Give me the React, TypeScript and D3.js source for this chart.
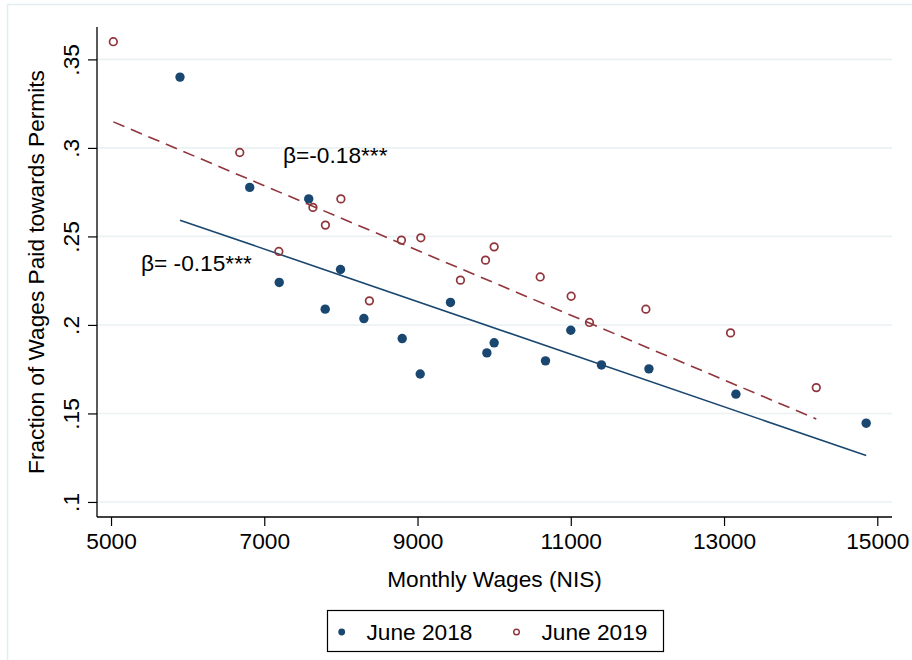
import React, { useEffect, useRef } from 'react';
import * as d3 from 'd3';

// June 2018 (filled navy dots)
const wage2018 = [5900, 6810, 7580, 7195, 7795, 7995, 8300, 8800, 9035, 9430, 9905, 10000, 10670, 11000, 11400, 12020, 13155, 14855];
const frac2018 = [0.340, 0.2777, 0.2712, 0.224, 0.2089, 0.2313, 0.2036, 0.1923, 0.1723, 0.2127, 0.1842, 0.1899, 0.1797, 0.197, 0.1774, 0.1752, 0.1609, 0.1445];

// June 2019 (hollow maroon circles)
const wage2019 = [5030, 6680, 7635, 7798, 8000, 7190, 8372, 8790, 9043, 9560, 9887, 10000, 10601, 11005, 11244, 11980, 13085, 14204];
const frac2019 = [0.360, 0.2974, 0.2664, 0.2564, 0.2712, 0.2415, 0.2136, 0.2479, 0.2492, 0.2253, 0.2366, 0.2441, 0.2271, 0.2162, 0.2014, 0.2089, 0.1955, 0.1646];

// fitted lines (endpoints in data units)
const fit2018X = [5900, 14855];
const fit2018Y = [0.2592, 0.1262];
const fit2019X = [5030, 14204];
const fit2019Y = [0.3147, 0.1469];

const xTicks = [5000, 7000, 9000, 11000, 13000, 15000];
const yTicks = [0.1, 0.15, 0.2, 0.25, 0.3, 0.35];
const yTickLabels = ['.1', '.15', '.2', '.25', '.3', '.35'];

const legendLabels = ['June 2018', 'June 2019'];
const betaLabels = ['β= -0.15***', 'β=-0.18***'];

const NAVY = '#1a476f';
const MAROON = '#90353b';
const GRID = '#eaf2f3';
const FONT = '"Liberation Sans", Arial, Helvetica, sans-serif';
const FS = 22.7;

const App = () => {
  const ref = useRef(null);

  useEffect(() => {
    const svg = d3.select(ref.current);
    svg.selectAll('*').remove();

    const left = 97;
    const right = 892;
    const top = 27;
    const bottom = 517;

    const x = d3.scaleLinear().domain([4817, 15192]).range([left, right]);
    const y = d3.scaleLinear().domain([0.0915, 0.3683]).range([bottom, top]);

    // outer graph region frame
    svg.append('rect')
      .attr('x', 7.5).attr('y', 4.5)
      .attr('width', 920).attr('height', 670)
      .attr('fill', 'white')
      .attr('stroke', '#e4edef')
      .attr('stroke-width', 1.5);

    // gridlines
    svg.append('g')
      .selectAll('line')
      .data(yTicks)
      .enter()
      .append('line')
      .attr('x1', left).attr('x2', right)
      .attr('y1', (d) => y(d)).attr('y2', (d) => y(d))
      .attr('stroke', GRID)
      .attr('stroke-width', 1.6);

    // y axis
    const yAxis = svg.append('g')
      .attr('transform', `translate(${left},0)`)
      .call(d3.axisLeft(y).tickValues(yTicks).tickSize(9).tickFormat((d, i) => yTickLabels[i]));
    yAxis.select('.domain').attr('d', `M0,${top}V${bottom}`).attr('stroke', '#000').attr('stroke-width', 1.3);
    yAxis.selectAll('.tick line').attr('stroke', '#000').attr('stroke-width', 1.2);
    yAxis.selectAll('.tick text')
      .attr('x', null).attr('dy', null)
      .attr('transform', 'translate(-18,0) rotate(-90)')
      .attr('text-anchor', 'middle')
      .attr('font-family', FONT)
      .attr('font-size', FS)
      .attr('fill', '#000');

    // x axis
    const xAxis = svg.append('g')
      .attr('transform', `translate(0,${bottom})`)
      .call(d3.axisBottom(x).tickValues(xTicks).tickSize(9).tickFormat(d3.format('d')));
    xAxis.select('.domain').attr('d', `M${left},0H${right}`).attr('stroke', '#000').attr('stroke-width', 1.3);
    xAxis.selectAll('.tick line').attr('stroke', '#000').attr('stroke-width', 1.2);
    xAxis.selectAll('.tick text')
      .attr('y', 32).attr('dy', null)
      .attr('font-family', FONT)
      .attr('font-size', FS)
      .attr('fill', '#000');

    // axis titles
    svg.append('text')
      .attr('x', (left + right) / 2).attr('y', 587)
      .attr('text-anchor', 'middle')
      .attr('font-family', FONT).attr('font-size', FS)
      .text('Monthly Wages (NIS)');

    svg.append('text')
      .attr('transform', `translate(44,${(top + bottom) / 2}) rotate(-90)`)
      .attr('text-anchor', 'middle')
      .attr('font-family', FONT).attr('font-size', FS)
      .text('Fraction of Wages Paid towards Permits');

    // fit lines
    const line = d3.line().x((d) => x(d[0])).y((d) => y(d[1]));
    svg.append('path')
      .attr('d', line(d3.zip(fit2018X, fit2018Y)))
      .attr('fill', 'none')
      .attr('stroke', NAVY)
      .attr('stroke-width', 1.6);
    svg.append('path')
      .attr('d', line(d3.zip(fit2019X, fit2019Y)))
      .attr('fill', 'none')
      .attr('stroke', MAROON)
      .attr('stroke-width', 1.6)
      .attr('stroke-dasharray', '12,7');

    // points
    svg.append('g')
      .selectAll('circle')
      .data(d3.zip(wage2018, frac2018))
      .enter()
      .append('circle')
      .attr('cx', (d) => x(d[0]))
      .attr('cy', (d) => y(d[1]))
      .attr('r', 4.7)
      .attr('fill', NAVY);

    svg.append('g')
      .selectAll('circle')
      .data(d3.zip(wage2019, frac2019))
      .enter()
      .append('circle')
      .attr('cx', (d) => x(d[0]))
      .attr('cy', (d) => y(d[1]))
      .attr('r', 3.8)
      .attr('fill', 'none')
      .attr('stroke', MAROON)
      .attr('stroke-width', 1.7);

    // beta annotations
    svg.append('text')
      .attr('x', 141).attr('y', 271)
      .attr('font-family', FONT).attr('font-size', FS)
      .text(betaLabels[0]);
    svg.append('text')
      .attr('x', 283).attr('y', 163)
      .attr('font-family', FONT).attr('font-size', FS)
      .text(betaLabels[1]);

    // legend
    const legend = svg.append('g');
    legend.append('rect')
      .attr('x', 327.5).attr('y', 610.5)
      .attr('width', 336).attr('height', 41)
      .attr('fill', 'white')
      .attr('stroke', '#000')
      .attr('stroke-width', 1.2);
    legend.append('circle')
      .attr('cx', 341.7).attr('cy', 632)
      .attr('r', 3.4)
      .attr('fill', NAVY);
    legend.append('circle')
      .attr('cx', 516.5).attr('cy', 632)
      .attr('r', 2.8)
      .attr('fill', 'none')
      .attr('stroke', MAROON)
      .attr('stroke-width', 1.4);
    legend.selectAll('text.lab')
      .data(legendLabels)
      .enter()
      .append('text')
      .attr('class', 'lab')
      .attr('x', (d, i) => (i === 0 ? 366.5 : 541.5))
      .attr('y', 640)
      .attr('font-family', FONT).attr('font-size', FS)
      .text((d) => d);

  // eslint-disable-next-line react-hooks/exhaustive-deps
  }, []);

  return (
    <svg ref={ref} width="912" height="660" style={{ position: 'absolute', left: 0, top: 0, background: 'white' }}></svg>
  );
};

export default App;
